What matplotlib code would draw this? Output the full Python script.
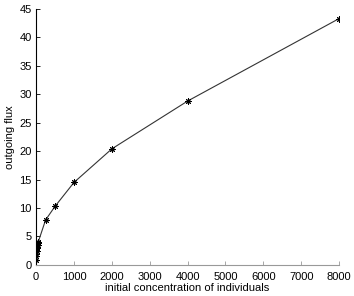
import matplotlib
matplotlib.use('Agg')
import matplotlib.pyplot as plt

plt.rcParams['font.family'] = ['Liberation Sans', 'DejaVu Sans']
plt.rcParams['font.size'] = 8

# concentration / flux values
conc = [2, 5, 10, 15, 20, 30, 40, 50, 60, 250, 500, 1000, 2000, 4000, 8000]
flux = [0.8, 1.5, 2.0, 2.5, 2.9, 3.2, 3.5, 3.8, 4.1, 7.9, 10.3, 14.5, 20.4, 28.8, 43.3]

fig = plt.figure(figsize=(3.54, 2.96), dpi=100, facecolor='white')
ax = fig.add_axes([0.102, 0.105, 0.856, 0.865])
# matlab-style asterisk marker (8 spokes)
ax.plot(conc, flux, color='#333333', linewidth=0.8, marker=(8, 2, 0),
        markersize=4.5, markeredgecolor='black', markeredgewidth=0.7)
ax.set_xlim(0, 8000)
ax.set_ylim(0, 45)
ax.set_xticks(range(0, 8001, 1000))
ax.set_yticks(range(0, 46, 5))
ax.spines['top'].set_visible(False)
ax.spines['right'].set_visible(False)
ax.spines['bottom'].set_color('#999999')
ax.spines['left'].set_linewidth(0.8)
ax.tick_params(direction='in', length=3, width=0.6)
ax.tick_params(axis='x', colors='#999999', labelcolor='black', pad=5)
ax.tick_params(axis='y', pad=3)
ax.set_xlabel('initial concentration of individuals', labelpad=1)
ax.set_ylabel('outgoing flux', labelpad=3)
fig.savefig('out.png', dpi=100, facecolor='white')
